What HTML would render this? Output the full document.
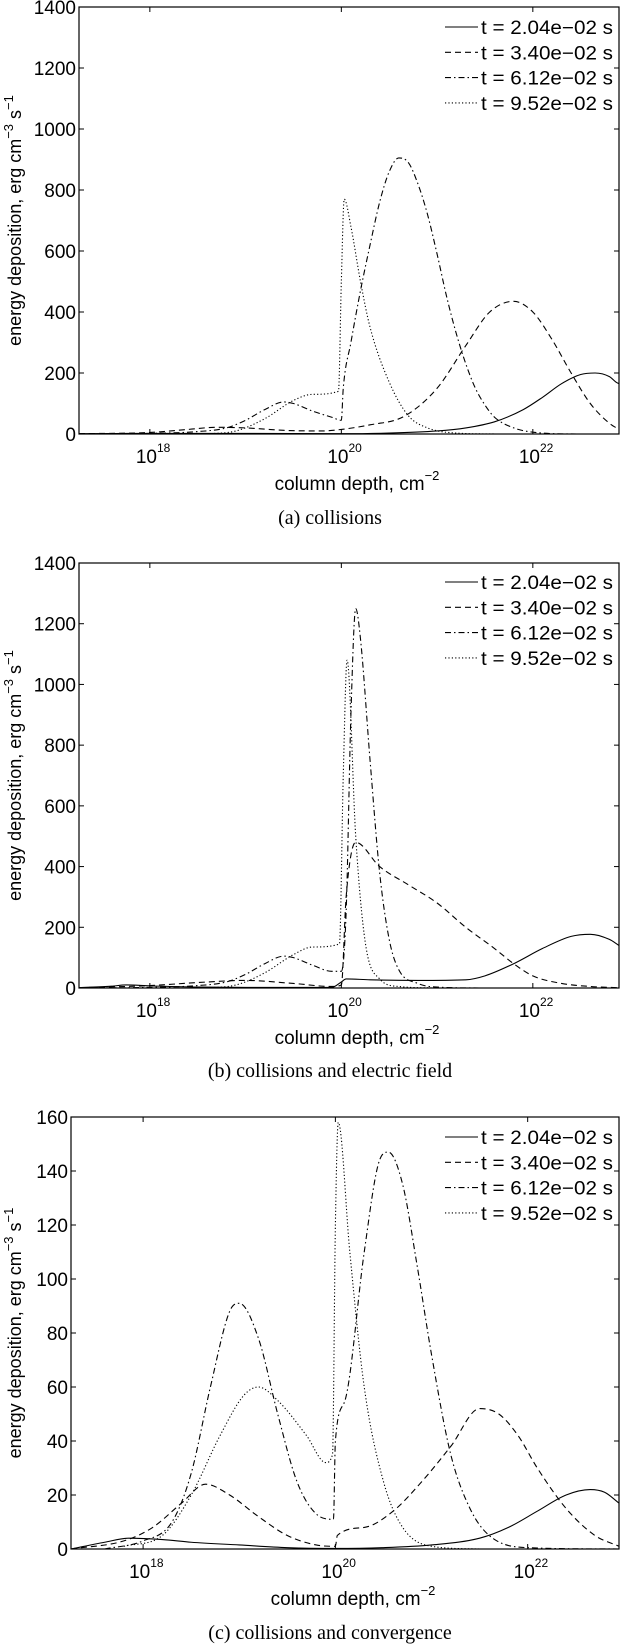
<!DOCTYPE html>
<html><head><meta charset="utf-8"><style>
body{margin:0;background:#fff;}
svg{display:block;font-family:"Liberation Sans",sans-serif;}
.cap{font-family:"Liberation Serif",serif;}
</style></head><body>
<svg id="fig" width="620" height="1644" viewBox="0 0 620 1644" xmlns="http://www.w3.org/2000/svg"></svg>
<script>
// x values are log10(column depth)
const seriesNames = ["t = 2.04e\u221202 s","t = 3.40e\u221202 s","t = 6.12e\u221202 s","t = 9.52e\u221202 s"];
const xTickExps = [18,20,22];
const yTicksA = [0,200,400,600,800,1000,1200,1400];
const yTicksC = [0,20,40,60,80,100,120,140,160];

const aSolid = [[17.26,1],[18,2],[19,2],[20,1],[20.5,3],[21,10],[21.3,20],[21.6,40],[21.9,80],[22.1,120],[22.3,165],[22.5,195],[22.65,200],[22.8,188],[22.87,170],[22.9,165]];
const aDash = [[17.26,1],[18,5],[18.4,15],[18.7,22],[19.0,20],[19.4,12],[19.8,10],[20.0,15],[20.3,30],[20.65,57],[21.0,150],[21.3,290],[21.55,400],[21.8,435],[22.0,400],[22.2,310],[22.4,200],[22.6,100],[22.8,35],[22.9,15]];
const aDashDot = [[17.26,0],[18,2],[18.5,8],[18.8,20],[19.0,45],[19.2,80],[19.4,105],[19.5,100],[19.7,75],[19.9,55],[20.0,45],[20.02,150],[20.1,300],[20.2,470],[20.3,620],[20.4,760],[20.5,860],[20.6,905],[20.7,890],[20.8,820],[20.9,720],[21.0,590],[21.1,450],[21.2,330],[21.3,230],[21.4,150],[21.5,95],[21.6,55],[21.8,20],[22,6],[22.5,0],[22.9,0]];
const aDot = [[18.6,0],[18.9,10],[19.2,50],[19.5,110],[19.7,130],[19.97,140],[20.0,500],[20.03,770],[20.1,680],[20.2,500],[20.3,350],[20.5,170],[20.7,60],[20.9,20],[21.2,3],[21.6,0]];

const bSolid = [[17.26,1],[17.6,6],[17.75,10],[18,7],[18.5,3],[19,2],[19.9,2],[20.0,20],[20.05,30],[20.3,27],[20.8,25],[21.3,27],[21.5,40],[21.8,80],[22.1,130],[22.4,170],[22.6,177],[22.8,160],[22.9,140]];
const bDash = [[17.26,1],[18,8],[18.5,18],[19,25],[19.5,15],[19.9,5],[20.0,10],[20.05,300],[20.15,480],[20.4,400],[20.7,340],[21.0,280],[21.3,200],[21.6,130],[21.8,80],[22.0,40],[22.3,15],[22.6,5],[22.9,1]];
const bDashDot = [[17.26,0],[18,2],[18.5,8],[18.8,20],[19.0,45],[19.2,80],[19.4,105],[19.5,100],[19.7,75],[19.9,55],[20.0,55],[20.05,250],[20.1,900],[20.15,1250],[20.2,1150],[20.3,750],[20.4,380],[20.5,160],[20.6,60],[20.8,15],[21,3],[21.5,0],[22.9,0]];
const bDot = [[18.6,0],[18.9,10],[19.2,50],[19.5,110],[19.7,135],[19.98,145],[20.02,700],[20.06,1080],[20.15,500],[20.25,150],[20.4,30],[20.6,5],[21,0]];

const cSolid = [[17.25,0],[17.6,2.5],[17.85,4],[18.2,3.5],[18.5,2.5],[19,1.5],[19.5,0.5],[20,0.2],[20.5,0.5],[21,1.5],[21.5,4],[21.8,8],[22.1,14],[22.4,20],[22.65,22],[22.8,21],[22.95,17]];
const cDash = [[17.25,0],[17.8,3],[18.1,8],[18.4,17],[18.65,24],[18.9,20],[19.2,12],[19.5,5],[19.8,1.5],[20.0,1],[20.02,5],[20.3,8],[20.6,14],[20.9,25],[21.2,38],[21.5,52],[21.7,50],[21.9,42],[22.1,30],[22.4,15],[22.7,5],[22.95,1]];
const cDashDot = [[17.6,0],[18.0,3],[18.3,10],[18.5,28],[18.7,60],[18.9,88],[19.0,91],[19.2,78],[19.4,50],[19.6,25],[19.8,13],[19.98,11],[20.0,40],[20.1,55],[20.3,110],[20.45,143],[20.55,147],[20.7,135],[20.85,105],[21.0,72],[21.2,35],[21.4,15],[21.6,5],[22,0.5],[22.95,0]];
const cDot = [[17.8,1],[18.2,5],[18.5,20],[18.8,42],[19.05,57],[19.2,60],[19.4,55],[19.7,42],[19.9,32],[19.97,35],[20.0,120],[20.03,158],[20.15,110],[20.3,60],[20.5,25],[20.7,8],[21,1],[21.5,0]];

const NS='http://www.w3.org/2000/svg';
const svg=document.getElementById('fig');
const styles=[null,'6,4','6,3,1.5,3','1.2,2.2'];
function mk(tag,attrs,parent){const e=document.createElementNS(NS,tag);for(const k in attrs)e.setAttribute(k,attrs[k]);(parent||svg).appendChild(e);return e;}

function smoothPath(P){
  const n=P.length; if(n<2)return '';
  const d=[],m=[];
  for(let i=0;i<n-1;i++){const dx=P[i+1][0]-P[i][0];d.push(dx?(P[i+1][1]-P[i][1])/dx:0);}
  m[0]=d[0];m[n-1]=d[n-2];
  for(let i=1;i<n-1;i++){m[i]=(d[i-1]*d[i]<=0)?0:(d[i-1]+d[i])/2;}
  for(let i=0;i<n-1;i++){
    if(d[i]===0){m[i]=0;m[i+1]=0;continue;}
    const a=m[i]/d[i],b=m[i+1]/d[i],s=a*a+b*b;
    if(s>9){const t=3/Math.sqrt(s);m[i]=t*a*d[i];m[i+1]=t*b*d[i];}
  }
  let s='M'+P[0][0].toFixed(2)+','+P[0][1].toFixed(2);
  for(let i=0;i<n-1;i++){
    const h=(P[i+1][0]-P[i][0])/3;
    s+='C'+(P[i][0]+h).toFixed(2)+','+(P[i][1]+m[i]*h).toFixed(2)+' '+(P[i+1][0]-h).toFixed(2)+','+(P[i+1][1]-m[i+1]*h).toFixed(2)+' '+P[i+1][0].toFixed(2)+','+P[i+1][1].toFixed(2);
  }
  return s;
}

function panel(id,L,R,T,B,XMIN,XMAX,ymax,yticks,series,legY,capText,capY){
  const g=mk('g',{});
  
  
  const xs=v=>L+(v-XMIN)/(XMAX-XMIN)*(R-L);
  const ys=v=>B-v/ymax*(B-T);
  const clip=mk('clipPath',{id:'clip'+id},g);
  mk('rect',{x:L,y:T,width:R-L,height:B-T},clip);
  series.forEach((s,i)=>{
    const d=smoothPath(s.map(p=>[xs(p[0]),ys(p[1])]));
    const p=mk('path',{d:d,fill:'none',stroke:'#000','stroke-width':1.1,'clip-path':'url(#clip'+id+')'},g);
    if(styles[i])p.setAttribute('stroke-dasharray',styles[i]);
    
    
  });
  const frame=mk('rect',{x:L,y:T,width:R-L,height:B-T,fill:'none',stroke:'#000','stroke-width':1.2},g);
  
  
  yticks.forEach(v=>{
    const y=ys(v);
    mk('line',{x1:L,x2:L+5,y1:y,y2:y,stroke:'#000'},g);
    mk('line',{x1:R-5,x2:R,y1:y,y2:y,stroke:'#000'},g);
    const t=mk('text',{x:L-3,y:y+7,'text-anchor':'end','font-size':19},g);
    t.textContent=v;
    
    
  });
  xTickExps.forEach(e=>{
    const x=xs(e);
    mk('line',{x1:x,x2:x,y1:B,y2:B-5,stroke:'#000'},g);
    mk('line',{x1:x,x2:x,y1:T,y2:T+5,stroke:'#000'},g);
    const t=mk('text',{x:x-14,y:B+29,'font-size':19},g);
    
    
    t.textContent='10';
    const s=mk('tspan',{dy:-11,'font-size':12},t);s.textContent=e;
  });
  const xl=mk('text',{x:(L+R)/2+8,y:B+56,'text-anchor':'middle','font-size':19},g);
  
  
  xl.textContent='column depth, cm';
  const xs2=mk('tspan',{dy:-10,'font-size':13},xl);xs2.textContent='\u22122';
  const cy=(T+B)/2;
  const yl=mk('text',{transform:'translate(21,'+cy+') rotate(-90)','text-anchor':'middle','font-size':18},g);
  
  
  yl.textContent='energy deposition, erg cm';
  const a=mk('tspan',{dy:-8,'font-size':13},yl);a.textContent='\u22123';
  const b=mk('tspan',{dy:8},yl);b.textContent=' s';
  const c=mk('tspan',{dy:-8,'font-size':13},yl);c.textContent='\u22121';
  seriesNames.forEach((n,i)=>{
    const y=legY+i*25.3;
    const ln=mk('line',{x1:445,x2:478,y1:y,y2:y,stroke:'#000','stroke-width':1.1},g);
    if(styles[i])ln.setAttribute('stroke-dasharray',styles[i]);
    const t=mk('text',{x:481,y:y+7,'font-size':19,textLength:132,lengthAdjust:'spacingAndGlyphs'},g);
    t.textContent=n;
    
    
  });
  const cap=mk('text',{x:330,y:capY,'text-anchor':'middle','font-size':20,class:'cap'},g);
  
  
  cap.textContent=capText;
}
panel('a',79,619,7,434,17.26,22.9,1400,yTicksA,[aSolid,aDash,aDashDot,aDot],27,'(a)  collisions',524);
panel('b',79,619,563,988,17.26,22.9,1400,yTicksA,[bSolid,bDash,bDashDot,bDot],582,'(b)  collisions and electric field',1077);
panel('c',71,619,1117,1549,17.25,22.95,160,yTicksC,[cSolid,cDash,cDashDot,cDot],1137,'(c)  collisions and convergence',1639);
</script>
</body></html>
